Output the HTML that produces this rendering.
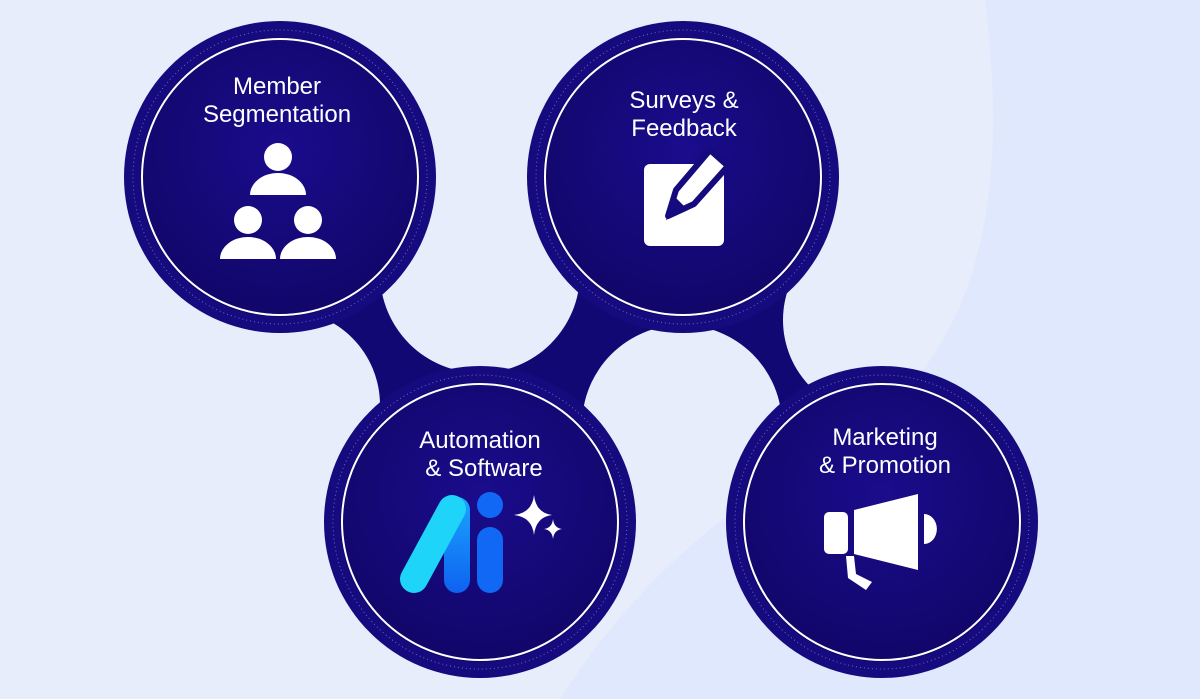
<!DOCTYPE html>
<html><head><style>
html,body{margin:0;padding:0;width:1200px;height:699px;overflow:hidden;background:#e8edfc;}
svg{display:block}
text{font-family:"Liberation Sans",sans-serif;font-size:24px;fill:#fff;text-anchor:middle}
</style></head><body>
<svg width="1200" height="699" viewBox="0 0 1200 699">
<defs>
<radialGradient id="g" cx="50%" cy="40%" r="60%"><stop offset="0" stop-color="#1a0c8c"/><stop offset="1" stop-color="#110669"/></radialGradient>
<linearGradient id="ai2" gradientUnits="userSpaceOnUse" x1="0" y1="497" x2="0" y2="593"><stop offset="0" stop-color="#1aa5ff"/><stop offset="1" stop-color="#0f62f0"/></linearGradient>
</defs>
<rect width="1200" height="699" fill="#e8edfc"/>
<polyline points="280,177 480,522 683,177 882,522" fill="none" stroke="#120874" stroke-width="150" stroke-linejoin="round"/>
<circle cx="480" cy="273" r="100" fill="#e8edfc"/>
<circle cx="285" cy="405" r="95" fill="#e8edfc"/>
<circle cx="682" cy="425" r="100" fill="#e8edfc"/>
<circle cx="878" cy="320" r="95" fill="#e8edfc"/>
<path d="M985 0 C1000 120 1000 260 930 360 C870 450 700 480 560 699 L1200 699 L1200 0Z" fill="#dfe8fc"/>
<g>
<circle cx="280" cy="177" r="156" fill="#150a7e"/><circle cx="280" cy="177" r="147" fill="none" stroke="#6d66c4" stroke-width="1" stroke-dasharray="1 3"/><circle cx="280" cy="177" r="140" fill="url(#g)"/><circle cx="280" cy="177" r="138" fill="none" stroke="#fff" stroke-width="2"/>
<circle cx="683" cy="177" r="156" fill="#150a7e"/><circle cx="683" cy="177" r="147" fill="none" stroke="#6d66c4" stroke-width="1" stroke-dasharray="1 3"/><circle cx="683" cy="177" r="140" fill="url(#g)"/><circle cx="683" cy="177" r="138" fill="none" stroke="#fff" stroke-width="2"/>
<circle cx="480" cy="522" r="156" fill="#150a7e"/><circle cx="480" cy="522" r="147" fill="none" stroke="#6d66c4" stroke-width="1" stroke-dasharray="1 3"/><circle cx="480" cy="522" r="140" fill="url(#g)"/><circle cx="480" cy="522" r="138" fill="none" stroke="#fff" stroke-width="2"/>
<circle cx="882" cy="522" r="156" fill="#150a7e"/><circle cx="882" cy="522" r="147" fill="none" stroke="#6d66c4" stroke-width="1" stroke-dasharray="1 3"/><circle cx="882" cy="522" r="140" fill="url(#g)"/><circle cx="882" cy="522" r="138" fill="none" stroke="#fff" stroke-width="2"/>
</g>
<text x="277" y="94">Member</text><text x="277" y="122">Segmentation</text>
<text x="684" y="108">Surveys &amp;</text><text x="684" y="136">Feedback</text>
<text x="480" y="448">Automation</text><text x="484" y="476">&amp; Software</text>
<text x="885" y="445">Marketing</text><text x="885" y="473">&amp; Promotion</text>
<g fill="#fff">
<circle cx="278" cy="157" r="14"/><path d="M250 195 a28 22 0 0 1 56 0z"/>
<circle cx="248" cy="220" r="14"/><path d="M220 259 a28 22 0 0 1 56 0z"/>
<circle cx="308" cy="220" r="14"/><path d="M280 259 a28 22 0 0 1 56 0z"/>
</g>
<rect x="644" y="164" width="80" height="82" rx="6" fill="#fff"/>
<path d="M668 216 L676 190 L710 150 L728 166 L694 204Z" fill="#fff" stroke="#150a7e" stroke-width="6" stroke-linejoin="round"/>
<path d="M666 220 L674 196 L688 210Z" fill="#150a7e"/>
<rect x="444" y="497" width="26" height="96" rx="13" fill="url(#ai2)"/>
<line x1="414" y1="579" x2="452" y2="509" stroke="#1ed4f8" stroke-width="28" stroke-linecap="round"/>
<circle cx="490" cy="505" r="13" fill="#1168f5"/>
<rect x="477" y="527" width="26" height="66" rx="13" fill="#1168f5"/>
<path d="M534 495 Q536 513 552 515 Q536 517 534 535 Q532 517 514 515 Q532 513 534 495Z" fill="#fff"/>
<path d="M553 519 Q554 528 562 529 Q554 530 553 539 Q552 530 544 529 Q552 528 553 519Z" fill="#fff"/>
<g fill="#fff">
<rect x="824" y="512" width="24" height="42" rx="5"/>
<path d="M854 510 L918 494 L918 570 L854 554Z"/>
<path d="M924 514 a12 14 0 0 1 0 30z"/>
<path d="M846 556 L854 556 L856 574 L872 582 L866 590 L848 578Z"/>
</g>
</svg>
</body></html>
